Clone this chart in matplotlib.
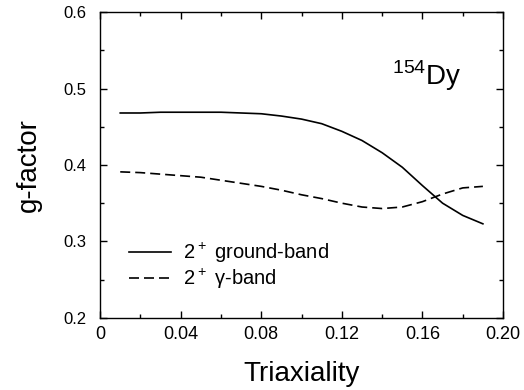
import numpy as np
import matplotlib.pyplot as plt

plt.rcParams['font.family'] = ['Liberation Sans', 'DejaVu Sans']
plt.rcParams['mathtext.fontset'] = 'custom'
plt.rcParams['mathtext.rm'] = 'Liberation Sans'

# data
triax = [0.01, 0.02, 0.03, 0.04, 0.05, 0.06, 0.07, 0.08, 0.09, 0.10,
         0.11, 0.12, 0.13, 0.14, 0.15, 0.16, 0.17, 0.18, 0.19]
g_ground = [0.468, 0.468, 0.469, 0.469, 0.469, 0.469, 0.468, 0.467, 0.464, 0.460,
            0.454, 0.444, 0.432, 0.416, 0.397, 0.373, 0.350, 0.334, 0.323]
g_gamma = [0.391, 0.390, 0.388, 0.386, 0.384, 0.380, 0.376, 0.372, 0.367, 0.361,
           0.356, 0.350, 0.345, 0.343, 0.345, 0.352, 0.362, 0.370, 0.372]

xticks = [0, 0.04, 0.08, 0.12, 0.16, 0.20]
xticklabels = ['0', '0.04', '0.08', '0.12', '0.16', '0.20']
yticks = [0.2, 0.3, 0.4, 0.5, 0.6]

fig = plt.figure(figsize=(5.24, 3.9), dpi=100)
ax = fig.add_axes([0.191, 0.185, 0.769, 0.784])

ax.plot(triax, g_ground, color='black', lw=1.2, label='2$^+$ ground-band')
ax.plot(triax, g_gamma, color='black', lw=1.2, ls=(0, (6, 3)), label='2$^+$ γ-band')

ax.set_xlim(0, 0.2)
ax.set_ylim(0.2, 0.6)
ax.set_xticks(xticks)
ax.set_xticklabels(xticklabels, fontsize=13)
ax.set_xticks(np.arange(0.02, 0.2, 0.04), minor=True)
ax.set_yticks(yticks)
ax.set_yticklabels([f'{v:.1f}' for v in yticks], fontsize=12)
ax.set_yticks([0.25, 0.35, 0.45, 0.55], minor=True)
ax.tick_params(which='both', direction='in', top=True, right=True, width=1)
ax.tick_params(which='major', length=5)
ax.tick_params(which='minor', length=3)
ax.tick_params(axis='x', which='major', pad=6)
ax.tick_params(axis='y', which='major', pad=10)
for s in ax.spines.values():
    s.set_linewidth(1)

ax.set_xlabel('Triaxiality', fontsize=20, labelpad=13)
ax.set_ylabel('g-factor', fontsize=20, labelpad=15)

ax.text(0.145, 0.504, '$^{154}$Dy', fontsize=20)

ax.legend(loc='center left', bbox_to_anchor=(0.072, 0.17), frameon=False,
          fontsize=14.5, handlelength=2.1, handletextpad=0.6, labelspacing=0.1,
          borderpad=0, borderaxespad=0)

fig.savefig('out.png', dpi=100)
